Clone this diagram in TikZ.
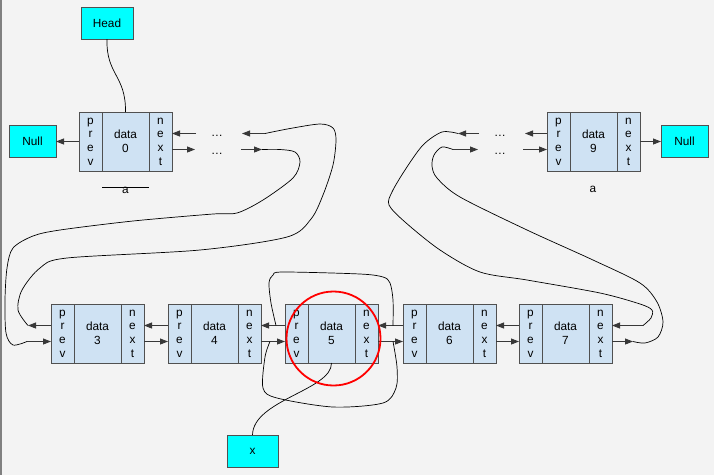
\documentclass[tikz,border=0pt]{standalone}
\usepackage{fontspec}
\setmainfont{Liberation Sans}
\usetikzlibrary{arrows.meta,calc}
\definecolor{bg}{HTML}{F3F3F3}
\definecolor{cellfill}{HTML}{CFE2F3}
\definecolor{cellline}{HTML}{505050}
\definecolor{cyanbox}{HTML}{00FFFF}
\definecolor{ptrline}{HTML}{383838}
\definecolor{edgegray}{HTML}{808080}
\newcommand\cellfont{\fontsize{11.8}{13.7}\selectfont}
\tikzset{
  cell/.style={draw=cellline, fill=cellfill, line width=1pt, inner sep=0pt, outer sep=0pt,
    minimum height=59pt, align=center, font=\cellfont, anchor=north west},
  sidecell/.style={cell, minimum width=23pt},
  datacell/.style={cell, minimum width=47pt},
  tag/.style={draw=cellline, fill=cyanbox, line width=1pt, inner sep=0pt, outer sep=0pt,
    minimum width=47pt, minimum height=32pt, font=\cellfont},
  ptr/.style={draw=ptrline, line width=0.9pt, -{Triangle[length=8pt,width=6pt]}},
  link/.style={draw=black, line width=0.7pt},
  dots/.style={font=\cellfont, inner sep=0pt, anchor=base},
  lbl/.style={font=\cellfont, inner sep=0pt, anchor=base},
}
\newcommand\listnode[4]{%
  \node[sidecell] (#1p) at (#2,#3) {p\\r\\e\\v};
  \node[datacell] (#1d) at (#1p.north east) {data\\#4};
  \node[sidecell] (#1n) at (#1d.north east) {n\\e\\x\\t};
  \coordinate (#1pu) at ($(#1p.north west)+(0,21.5)$);
  \coordinate (#1pl) at ($(#1p.north west)+(0,37.5)$);
  \coordinate (#1nu) at ($(#1n.north east)+(0,21.5)$);
  \coordinate (#1nl) at ($(#1n.north east)+(0,37.5)$);
}
\begin{document}
\begin{tikzpicture}[x=1pt,y=-1pt]
\fill[bg] (0,0) rectangle (714,475);
\useasboundingbox (0,0) rectangle (714,475);
\draw[edgegray, line width=2pt] (1,0) -- (1,475);

% nodes
\listnode{n0}{79}{112}{0}
\listnode{n9}{547}{112}{9}
\listnode{n3}{51}{304}{3}
\listnode{n4}{168}{304}{4}
\listnode{n5}{285}{304}{5}
\listnode{n6}{403}{304}{6}
\listnode{n7}{519}{304}{7}

\node[tag, minimum width=52pt] (head) at (107,23) {Head};
\node[tag] (nullL) at (32.5,141) {Null};
\node[tag] (nullR) at (684.5,141) {Null};
\node[tag, minimum width=51pt] (x) at (252.5,451) {x};

\node[dots] (dl1) at (217,136.5) {…};
\node[dots] (dl2) at (217,154.5) {…};
\node[dots] (dr1) at (500,136.5) {…};
\node[dots] (dr2) at (500,154.5) {…};

\node[lbl] (aL) at (125.5,193) {a};
\draw[line width=0.8pt] (102,187.3) -- (149,187.3);
\node[lbl] (aR) at (593,192) {a};

% free ends
\coordinate (l1u) at (196,133.5);
\coordinate (l1l) at (195,149.5);
\coordinate (l2ut) at (265,133.5);
\coordinate (l2uh) at (242,133.5);
\coordinate (l2lt) at (241,149.5);
\coordinate (l2lh) at (262,149.5);
\coordinate (r1ut) at (479,133.5);
\coordinate (r1uh) at (458,133.5);
\coordinate (r1lt) at (453,149.5);
\coordinate (r1lh) at (478,149.5);
\coordinate (r2uh) at (525,133.5);
\coordinate (r2lt) at (523,149.5);
\coordinate (c3u) at (28,325.5);
\coordinate (c3l) at (27,341.5);
\coordinate (c7u) at (643,325.5);
\coordinate (c7l) at (633,341.5);
\coordinate (j5a) at (393,325.5);
\coordinate (j5b) at (276,325.5);
\coordinate (j5c) at (270,341.5);
\coordinate (j5d) at (393,341.5);

% pointers
\draw[ptr] (n0p.west) -- (n0p.west -| nullL.east);
\draw[ptr] (l1u) -- (n0nu);
\draw[ptr] (n0nl) -- (l1l);
\draw[ptr] (l2ut) -- (l2uh);
\draw[ptr] (l2lt) -- (l2lh);
\draw[ptr] (r1ut) -- (r1uh);
\draw[ptr] (r1lt) -- (r1lh);
\draw[ptr] (n9pu) -- (r2uh);
\draw[ptr] (r2lt) -- (n9pl);
\draw[ptr] (n9n.east) -- (n9n.east -| nullR.west);

\draw[ptr] (n3pu) -- (c3u);
\draw[ptr] (c3l) -- (n3pl);
\draw[ptr] (n4pu) -- (n3nu);
\draw[ptr] (n3nl) -- (n4pl);
\draw[ptr] (n5pu) -- (n4nu);
\draw[ptr] (n4nl) -- (n5pl);
\draw[ptr] (n6pu) -- (n5nu);
\draw[ptr] (n5nl) -- (n6pl);
\draw[ptr] (n7pu) -- (n6nu);
\draw[ptr] (n6nl) -- (n7pl);
\draw[ptr] (c7u) -- (n7nu);
\draw[ptr] (n7nl) -- (c7l);

% links
\draw[link] (head.south) .. controls (106,75) and (126,75) .. (n0d.north);
\draw[link] (n5d.south) .. controls (332,390) and (253,400) .. (x.north);

\draw[link] plot[smooth] coordinates {(l2ut) (290,128.5) (320,124) (333,128) (336,140) (333,165) (323,195) (311,219) (287,237) (200,250) (67,258) (40,268) (22,290) (18,310) (c3u)};
\draw[link] plot[smooth] coordinates {(l2lh) (280,149.5) (295,152) (300,162) (293,178) (263,200) (237,213) (213,214) (133,221) (60,230) (33,236) (13,248) (7,268) (5,300) (6,333) (13,345) (c3l)};
\draw[link] plot[smooth] coordinates {(j5a) (393,300) (390,283) (383,277) (360,274) (283,272) (273,275) (269,283) (271,303) (j5b)};
\draw[link] plot[smooth] coordinates {(j5c) (265,357) (263,388) (277,398) (333,407) (383,403) (396,388) (397,367) (j5d)};
\draw[link] plot[smooth] coordinates {(c7u) (651,318) (652,310) (640,304) (600,293) (527,280) (480,272) (440,250) (405,222) (389,205) (392,192) (405,170) (423,145) (442,132) (r1uh)};
\draw[link] plot[smooth] coordinates {(r1lt) (442,147) (434,155) (432,166) (437,178) (460,197) (527,230) (593,260) (640,283) (657,302) (663,322) (658,337) (645,343) (c7l)};

\draw[red, line width=1.8pt] (333.5,338.5) circle[radius=47];
\end{tikzpicture}
\end{document}
